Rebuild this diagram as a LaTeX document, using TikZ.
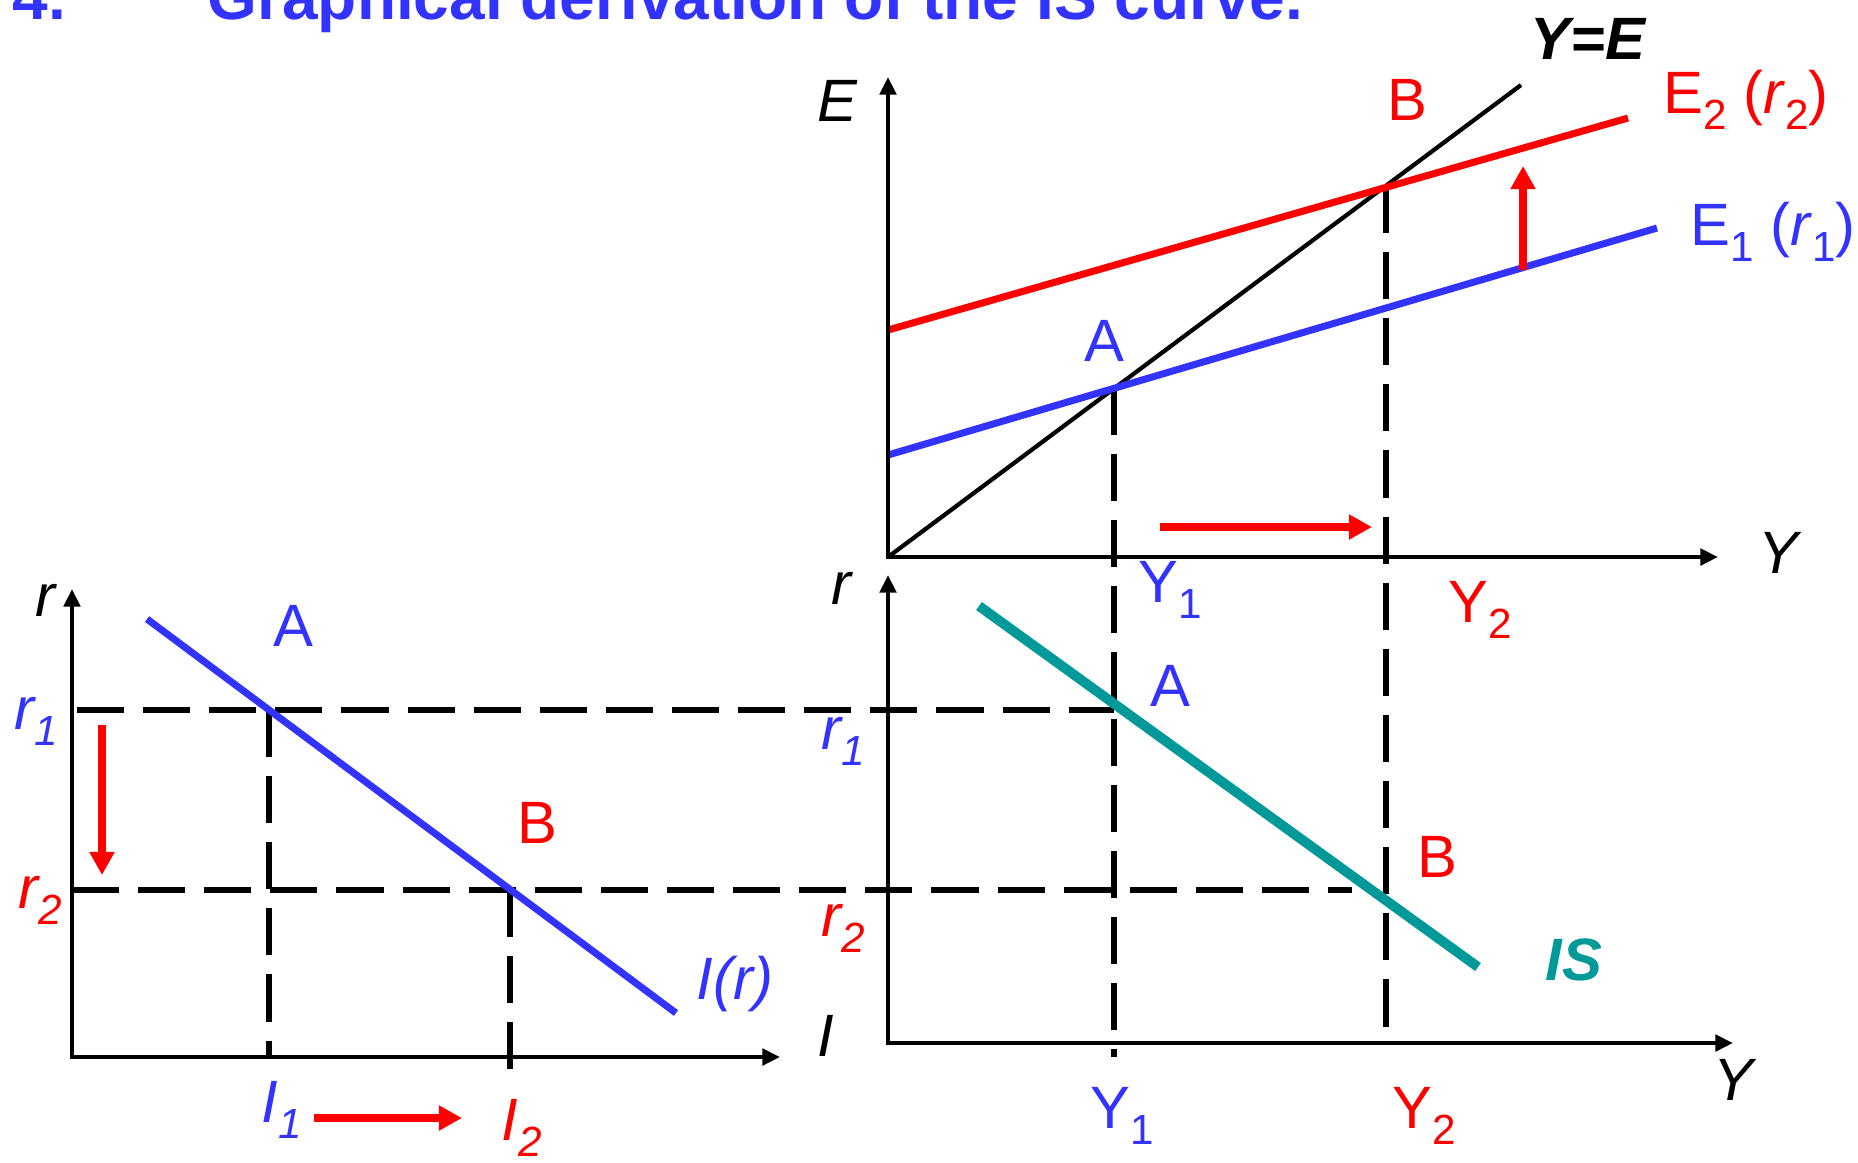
\documentclass[tikz,border=0pt]{standalone}
\usepackage{fontspec}
\setmainfont{Liberation Sans}
\usetikzlibrary{arrows.meta, positioning}
\definecolor{isblue}{HTML}{3333FF}
\definecolor{isred}{HTML}{FF0000}
\definecolor{isteal}{HTML}{009999}
\newcommand{\low}[1]{\raisebox{-4.6pt}{\fontsize{12}{14}\selectfont #1}}

\begin{document}
\begin{tikzpicture}[
      x=0.01cm, y=-0.01cm,
      font=\fontsize{17}{20}\selectfont,
      axes/.style={line width=1.4pt, {Triangle[length=5pt,width=4.6pt]}-{Triangle[length=5pt,width=4.6pt]}},
      guide/.style={line width=1.55pt, dash pattern=on 13.4pt off 5.4pt},
      push/.style={isred, line width=2.2pt, -{Triangle[length=6.6pt,width=6.8pt]}},
      lbl/.style={inner sep=0pt, anchor=base},
      lblw/.style={inner sep=0pt, anchor=base west},
    ]
    \useasboundingbox (0,0) rectangle (1858,1162);

    % title, cut by the page edge
    \node[lblw, isblue, font=\fontsize{18.2}{22}\selectfont\bfseries] (num) at (12,19) {4.};
    \node[lblw, isblue, font=\fontsize{18.2}{22}\selectfont\bfseries] (title) at (207,19)
      {Graphical derivation of the IS curve.};

    % points
    \coordinate (O) at (888,557);
    \coordinate (Etip) at (888,77);
    \coordinate (Ytip) at (1718,557);
    \coordinate (A) at (1114,388);
    \coordinate (B) at (1386,186);
    \coordinate (yeEnd) at (1521,85);
    \coordinate (e1a) at (888,455);
    \coordinate (e1b) at (1657,228);
    \coordinate (e2a) at (888,330);
    \coordinate (e2b) at (1628,118);

    \coordinate (O2) at (888,1043);
    \coordinate (rTip) at (888,575);
    \coordinate (YTip2) at (1733,1043);
    \coordinate (isA) at (979,606);
    \coordinate (isB) at (1478,967);
    \coordinate (Aa) at (1114,710);
    \coordinate (Bb) at (1352,890);
    \coordinate (y1low) at (1114,1057);
    \coordinate (y2low) at (1386,1043);

    \coordinate (O3) at (72,1057);
    \coordinate (rTipL) at (72,589);
    \coordinate (ITip) at (780,1057);
    \coordinate (ira) at (147,619);
    \coordinate (irb) at (676,1013);
    \coordinate (AL) at (269,710);
    \coordinate (BL) at (510,890);
    \coordinate (r1L) at (77,710);
    \coordinate (r2L) at (72,890);
    \coordinate (i1low) at (269,1057);
    \coordinate (i2low) at (510,1072);

    % guide lines
    \draw[guide] (r1L) -- (Aa);
    \draw[guide] (r2L) -- (Bb);
    \draw[guide] (A) -- (y1low);
    \draw[guide] (B) -- (y2low);
    \draw[guide] (AL) -- (i1low);
    \draw[guide] (BL) -- (i2low);

    % curves
    \draw[line width=1.2pt] (O) -- (yeEnd);
    \draw[isblue, line width=2pt] (e1a) -- (e1b);
    \draw[isred, line width=2pt] (e2a) -- (e2b);
    \draw[isteal, line width=2.8pt] (isA) -- (isB);
    \draw[isblue, line width=2pt] (ira) -- (irb);

    % axes
    \draw[axes] (Etip) -- (O) -- (Ytip);
    \draw[axes] (rTip) -- (O2) -- (YTip2);
    \draw[axes] (rTipL) -- (O3) -- (ITip);

    % shifts
    \coordinate (upA) at (1523,270);
    \coordinate (upB) at (1523,166);
    \coordinate (rtA) at (1160,527);
    \coordinate (rtB) at (1372,527);
    \coordinate (dnA) at (102,725);
    \coordinate (dnB) at (102,875);
    \coordinate (riA) at (314,1118);
    \coordinate (riB) at (462,1118);
    \draw[push] (upA) -- (upB);
    \draw[push] (rtA) -- (rtB);
    \draw[push] (dnA) -- (dnB);
    \draw[push] (riA) -- (riB);

    % labels, top panel
    \node[lbl] (lE) at (837,121) {\itshape E};
    \node[lbl] (lY) at (1778,573) {\itshape Y};
    \node[lbl, font=\fontsize{17}{20}\selectfont\bfseries\itshape] (lYE) at (1588,59) {Y=E};
    \node[lblw, isred] (lE2) at (1663,113) {E\low{2} (\textit{r}\low{2})};
    \node[lblw, isblue] (lE1) at (1690,245) {E\low{1} (\textit{r}\low{1})};
    \node[lbl, isred] (lB) at (1407,120) {B};
    \node[lbl, isblue] (lA) at (1104,361) {A};
    \node[lblw, isblue] (lY1) at (1138,602) {Y\low{1}};
    \node[lblw, isred] (lY2) at (1448,622) {Y\low{2}};

    % labels, IS panel
    \node[lbl] (lr) at (841,604) {\itshape r};
    \node[lblw, isblue] (lr1) at (821,749) {\itshape r\low{1}};
    \node[lblw, isred] (lr2) at (821,936) {\itshape r\low{2}};
    \node[lbl, isblue] (lAa) at (1170,706) {A};
    \node[lbl, isred] (lBb) at (1437,877) {B};
    \node[lbl, isteal, font=\fontsize{17}{20}\selectfont\bfseries\itshape] (lIS) at (1574,980) {IS};
    \node[lblw, isblue] (lY1b) at (1090,1128) {Y\low{1}};
    \node[lblw, isred] (lY2b) at (1392,1128) {Y\low{2}};
    \node[lbl] (lYb) at (1733,1100) {\itshape Y};

    % labels, investment panel
    \node[lbl] (lrL) at (45,616) {\itshape r};
    \node[lblw, isblue] (lr1L) at (14,729) {\itshape r\low{1}};
    \node[lblw, isred] (lr2L) at (18,908) {\itshape r\low{2}};
    \node[lbl, isblue] (lAL) at (293,646) {A};
    \node[lbl, isred] (lBL) at (537,843) {B};
    \node[lbl, isblue] (lIr) at (735,999) {\itshape I(r)};
    \node[lbl] (lI) at (826,1056) {\itshape I};
    \node[lblw, isblue] (lI1) at (261,1122) {\itshape I\low{1}};
    \node[lblw, isred] (lI2) at (501,1140) {\itshape I\low{2}};
  \end{tikzpicture}
\end{document}
